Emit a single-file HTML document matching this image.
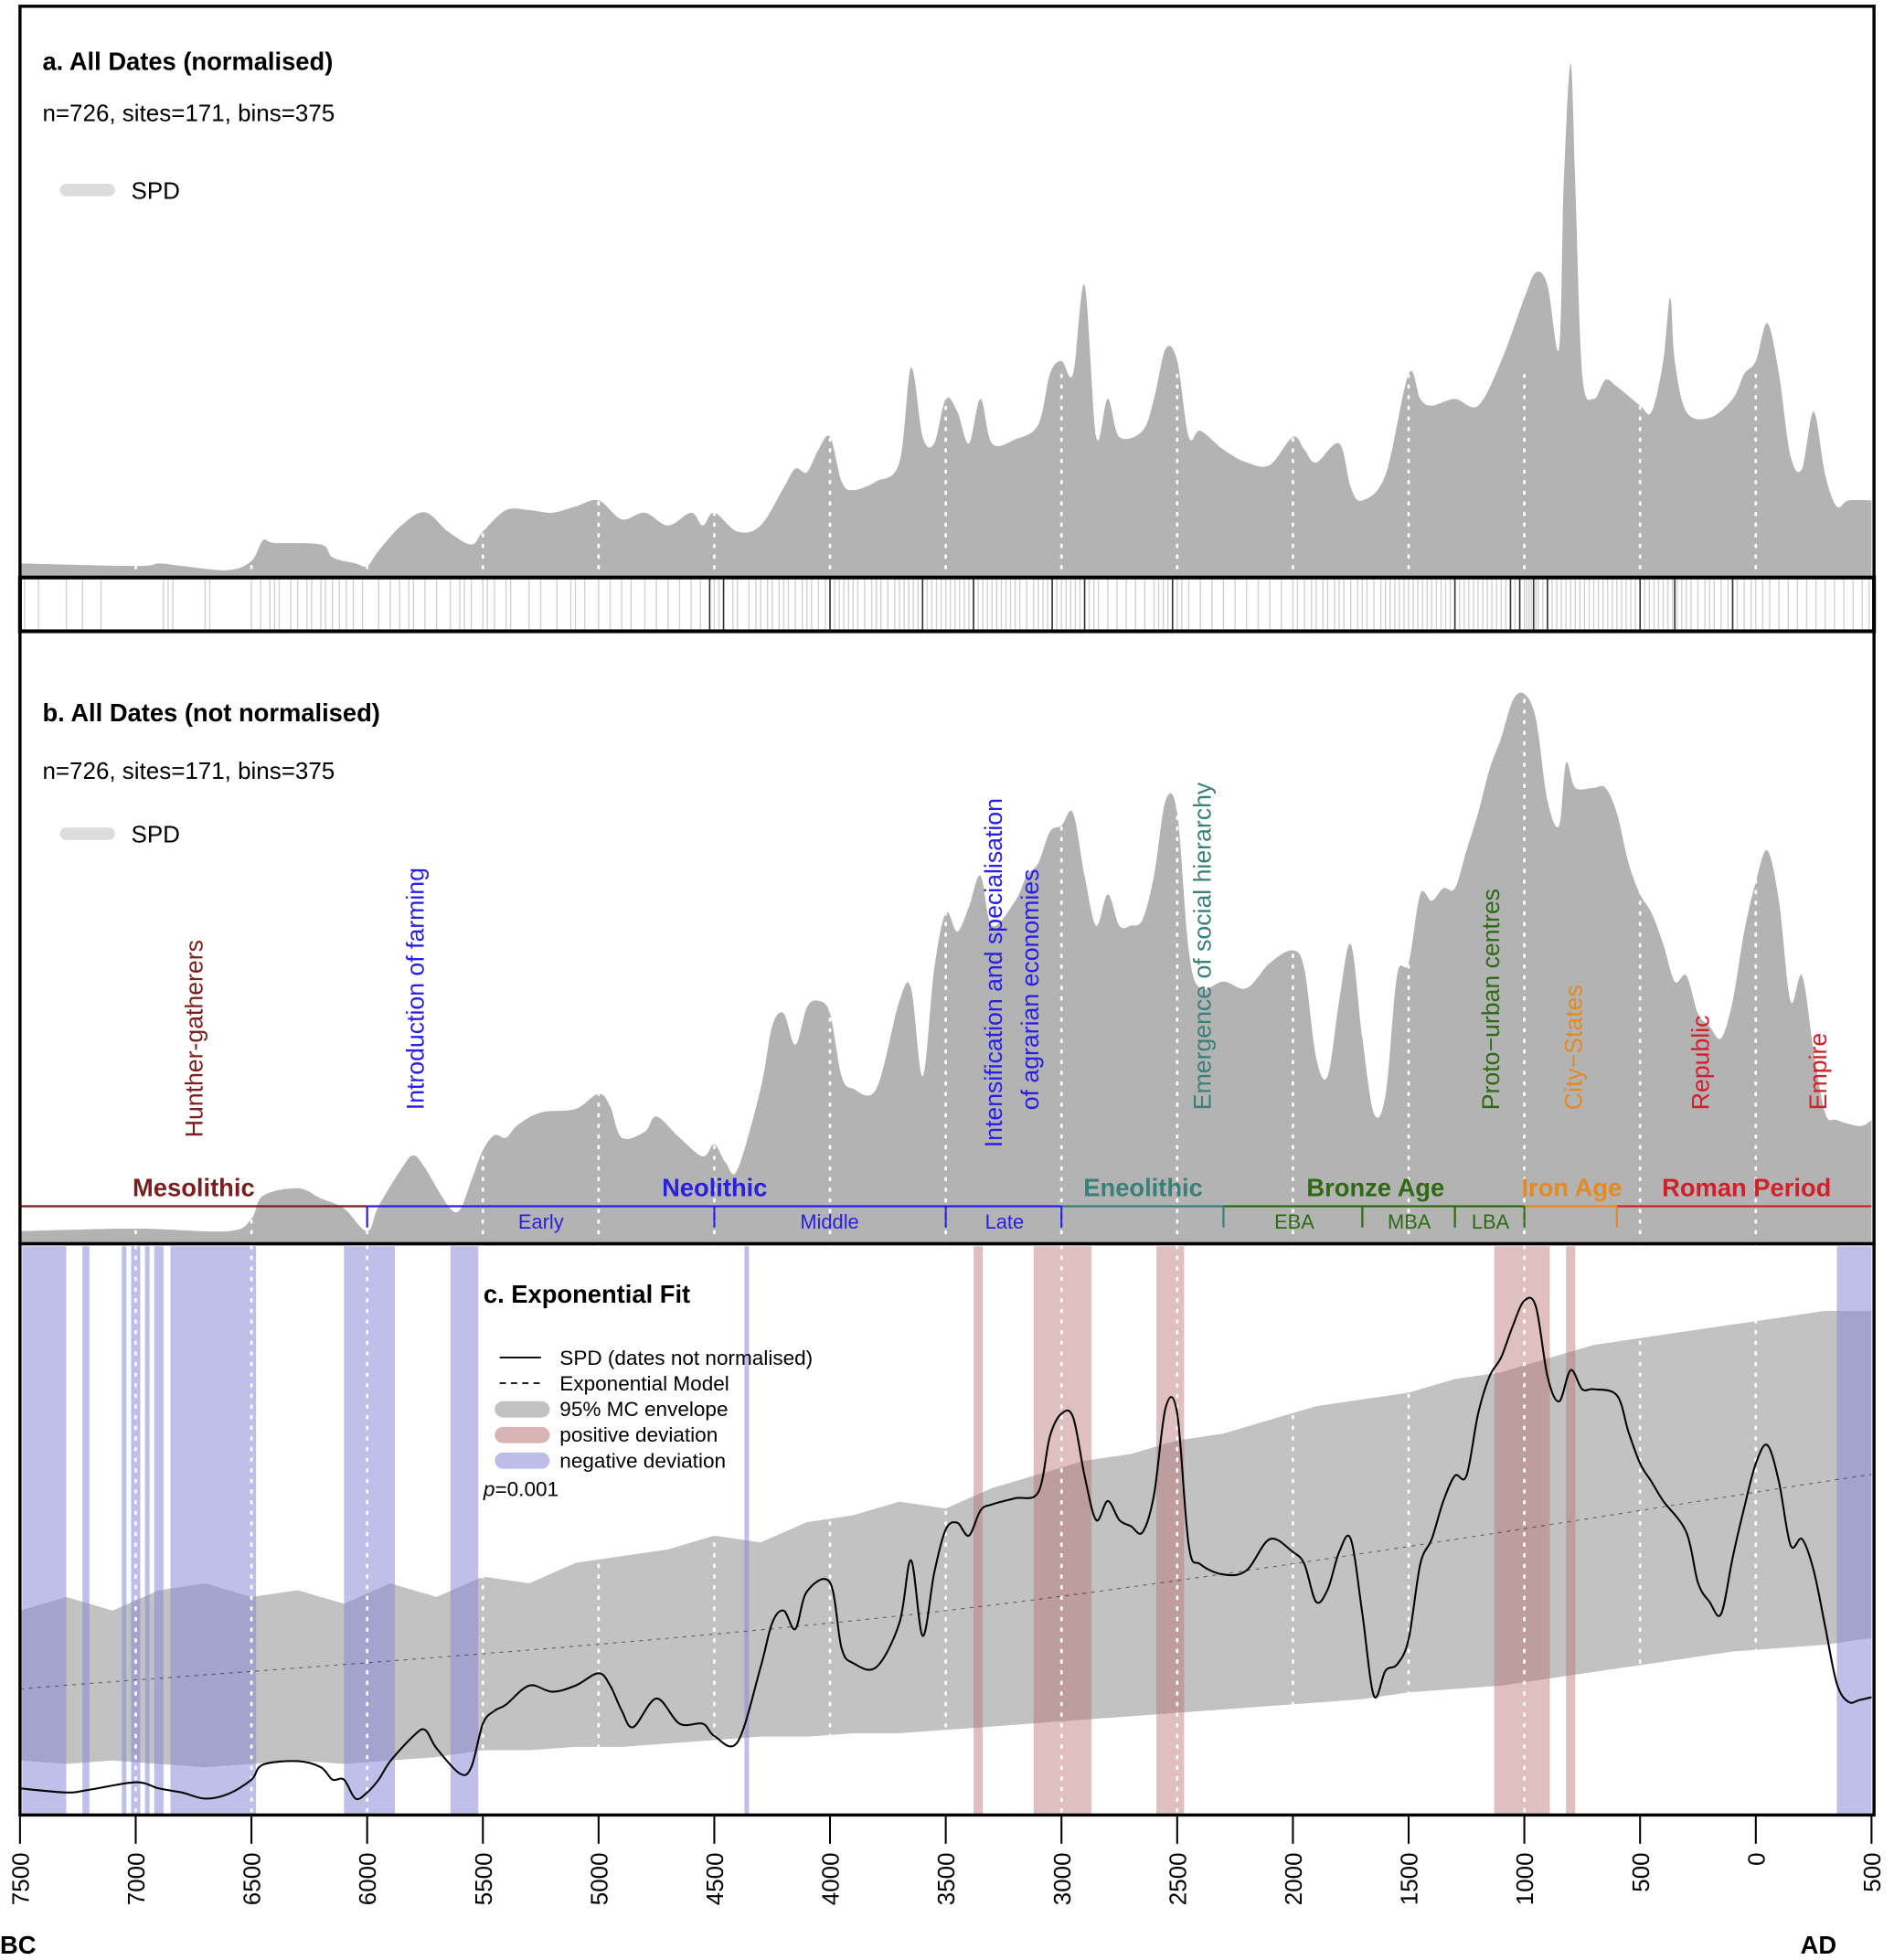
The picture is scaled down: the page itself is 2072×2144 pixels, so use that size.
<!DOCTYPE html>
<html><head><meta charset="utf-8">
<style>
html,body{margin:0;padding:0;background:#fff;}
svg{display:block;}
text{font-family:"Liberation Sans","DejaVu Sans",sans-serif;}
</style></head>
<body>
<svg id="chart" xmlns="http://www.w3.org/2000/svg" width="2072" height="2144" viewBox="0 0 1516 1568" preserveAspectRatio="none">
<g id="gA"></g>
<g id="gRug"></g>
<g id="gB"></g>
<g id="gC"></g>
<g id="gAx"></g>
</svg>
<script>
// ---- data (years BC positive, AD negative) ----
const aYears=[7500,7000,6900,6800,6600,6500,6450,6400,6200,6150,6050,6000,5950,5850,5750,5650,5550,5500,5400,5300,5200,5100,5000,4900,4800,4700,4600,4550,4500,4400,4300,4200,4150,4100,4050,4000,3950,3900,3800,3700,3650,3600,3550,3500,3450,3400,3350,3300,3200,3100,3050,3000,2950,2900,2850,2800,2750,2650,2600,2550,2500,2450,2400,2300,2200,2100,2000,1950,1900,1800,1750,1700,1600,1500,1450,1400,1300,1200,1100,1000,950,900,850,830,800,780,750,700,650,600,500,450,400,370,350,300,200,100,50,0,-50,-100,-150,-200,-250,-300,-350,-400,-500];
const aVals=[2.5,2,2.5,2,1.2,3,7,6.5,6.2,3.7,2.5,2,5,10,12.5,8.7,6.2,8.7,12.9,12.9,12.4,13.6,14.8,11.1,12.4,9.9,12.4,9.9,12.4,8.7,9.9,17.3,21,20.3,24.7,27.2,18.5,16.8,18.5,22.2,40.7,27.2,25.9,34.6,32.1,25.9,34.6,25.9,26.7,29.6,39.5,42,39.5,56.8,27.2,34.6,27.2,28.4,34.6,44.4,42,27.2,28.4,24.7,22.2,21.7,27.2,24.7,22.2,25.9,17.3,14.8,19.8,39.5,34.6,33.3,34.6,33.3,42,54.3,59.3,56.8,44.4,76.5,100,76.5,39.5,34.6,38.3,37,33.3,32.1,42,54.3,42,32.1,30.9,34.6,39.5,42,49.4,39.5,23.5,21,32.1,19.8,13.6,14.8,14.8];
const rugYears=[7480,7420,7300,7230,7150,6880,6860,6840,6700,6680,6500,6460,6420,6400,6380,6330,6300,6260,6240,6200,6180,6150,6120,6090,6060,6020,5950,5900,5860,5820,5800,5750,5700,5640,5600,5580,5550,5500,5480,5450,5400,5380,5300,5250,5180,5120,5100,5060,5000,4950,4900,4860,4800,4750,4700,4650,4600,4560,4520,4500,4480,4460,4420,4400,4350,4320,4300,4270,4250,4220,4200,4180,4150,4120,4100,4080,4050,4020,4000,3980,3960,3940,3920,3900,3880,3850,3820,3800,3780,3750,3720,3700,3680,3660,3640,3620,3600,3580,3560,3540,3520,3500,3480,3460,3440,3420,3400,3380,3360,3340,3320,3300,3280,3260,3240,3220,3200,3180,3150,3120,3100,3080,3060,3040,3020,3000,2980,2960,2940,2920,2900,2880,2860,2840,2800,2760,2720,2680,2640,2600,2580,2560,2540,2520,2500,2480,2450,2400,2350,2300,2250,2200,2150,2100,2050,2000,1980,1950,1920,1900,1870,1850,1820,1800,1780,1750,1720,1700,1680,1650,1620,1600,1580,1560,1540,1520,1500,1480,1460,1440,1420,1400,1380,1360,1340,1320,1300,1280,1260,1240,1220,1200,1180,1160,1140,1120,1100,1080,1060,1040,1020,1000,990,980,970,960,950,940,920,900,880,860,840,820,800,780,760,740,720,700,680,660,640,620,600,580,560,540,520,500,480,460,440,420,400,380,360,340,320,300,280,250,220,200,180,150,120,100,80,50,20,0,-30,-60,-100,-140,-180,-220,-260,-300,-340,-380,-420,-460,-490];
const rugDark=[4520,4460,4000,3600,3380,3040,2900,2520,1300,1060,1020,960,900,500,350,100];

const bYears=[7500,7000,6600,6500,6450,6300,6200,6100,6000,5950,5850,5800,5750,5650,5600,5550,5500,5450,5400,5350,5250,5100,5000,4950,4900,4800,4750,4650,4550,4500,4450,4400,4300,4250,4200,4150,4100,4050,4000,3950,3900,3800,3700,3650,3600,3550,3500,3450,3400,3350,3300,3200,3150,3100,3050,3000,2950,2900,2850,2800,2750,2700,2650,2600,2550,2500,2450,2400,2300,2200,2100,2000,1950,1900,1850,1800,1750,1700,1650,1600,1550,1500,1450,1400,1350,1300,1250,1200,1150,1100,1050,1000,950,900,850,820,780,700,650,600,550,500,450,400,350,300,250,200,150,100,50,0,-50,-100,-150,-200,-250,-300,-350,-450,-500];
const bVals=[2,2.5,2,4.5,9,10.5,8.5,6.5,2,7,14.5,17,14.5,7,6.2,12,18,21,20.5,23,25.5,26.2,29.2,26.7,20.5,21.7,24.7,20.5,16.8,19.2,15.5,14.2,30.2,42.6,45.1,38.9,46.3,47.6,45.1,32.7,30.2,30.2,47.6,50.1,32.7,53.8,65,61.3,66.2,72.4,62.5,67.4,72.4,74.9,81.1,82.3,84.8,72.4,62.5,68.7,62.5,62.5,63.7,72.4,87.3,84.8,57.6,50.1,51.4,50.1,55.1,57.6,53.8,36.4,32.7,47.6,58.8,40.2,25.3,29,52.6,55.1,68.7,67.4,69.9,69.9,77.4,84.8,93.5,99.7,107.1,108.4,103.4,87.3,82.3,94.7,89.8,89.8,89.8,84.8,74.9,68.7,65,58.8,51.4,52.6,45.1,42.6,40.2,47.6,61.3,71.2,77.4,67.4,47.6,52.6,37.7,25.3,24,22.8,24];

const cYears=[7500,7300,7200,7000,6900,6800,6700,6600,6500,6450,6300,6200,6150,6100,6050,6000,5950,5900,5800,5750,5700,5600,5550,5500,5450,5400,5300,5200,5100,5000,4950,4900,4850,4750,4650,4550,4500,4400,4300,4250,4200,4150,4100,4000,3950,3900,3800,3700,3650,3600,3550,3500,3450,3400,3350,3300,3200,3100,3050,3000,2950,2900,2850,2800,2750,2700,2650,2600,2550,2500,2450,2400,2300,2200,2100,2000,1950,1900,1850,1800,1750,1700,1650,1600,1550,1500,1450,1400,1350,1300,1250,1200,1150,1100,1050,1000,950,900,850,800,750,700,600,550,500,450,400,300,250,200,150,100,50,0,-50,-100,-150,-200,-250,-300,-350,-400,-450,-500];
const cVals=[3.9,3.3,3.7,4.8,3.9,3.3,2.4,3.1,5.2,7.4,7.9,7,5.2,5.2,2.4,3.3,5.2,7.9,11.6,12.5,9.8,6.1,7,13.4,15.3,16.2,19,18.1,19,20.8,19,15.3,12.9,17.1,13.4,13.4,11.6,10.7,21.7,28.2,30,27.3,32.8,34.1,24.5,22.3,21.7,28.2,37.4,26.3,35.5,41.9,42.9,41,44.7,45.6,46.5,47.4,55.6,58.9,58.4,49.8,43.3,46.1,43.3,42.4,41.5,47,59.8,58.9,39.6,36.8,35.3,35.9,40.5,38.6,36.8,31.3,33.1,38.6,40.5,29.5,17.5,21.2,22.1,25.8,36.8,40.5,46.1,49.8,49.8,58.9,64.4,67.2,71.8,75.5,74.6,64.4,60.7,65.3,62.5,62.5,61.6,56.2,51.6,48.9,46.1,41.5,34.1,31.3,29.5,37.8,45.1,51.6,54.3,48.9,39.6,40.5,35.9,27.6,19.3,16.6,16.9,17.3];
const envYears=[7500,7300,7100,6900,6700,6500,6300,6100,5900,5700,5500,5300,5100,4900,4700,4500,4300,4100,3900,3700,3500,3300,3100,2900,2700,2500,2300,2100,1900,1700,1500,1300,1100,900,700,500,300,100,-100,-300,-500];
const envHi=[30,32,30,33,34,32,33,31,34,32,35,34,37,38,39,41,40,43,44,46,45,48,50,52,53,55,56,58,60,61,62,64,65,67,69,70,71,72,73,74,74];
const envLo=[8,7.5,8,7.5,7,7.5,8,7.5,8,8.5,9.5,9.5,10,10,10.5,11,11.5,11.5,12,12,12.5,13,13.5,14,14.5,15,15.5,16,16.5,17,18,18.5,19,20,21,22,23,24,24.5,25,26];
const modelYears=[7500,3500,-500];
const modelVals=[18.5,30,50];
const negBands=[[7490,7300],[7230,7200],[7060,7040],[7020,6980],[6960,6940],[6920,6880],[6850,6480],[6100,5880],[5640,5520],[4370,4350],[-350,-500]];
const posBands=[[3380,3340],[3120,2870],[2590,2470],[1130,890],[820,780]];
const tickVals=[7500,7000,6500,6000,5500,5000,4500,4000,3500,3000,2500,2000,1500,1000,500,0,-500];
const tickLabels=["7500","7000","6500","6000","5500","5000","4500","4000","3500","3000","2500","2000","1500","1000","500","0","500"];

// ---- scales ----
const NS="http://www.w3.org/2000/svg";
const X0=16,X1=1498;
function xs(bc){return X0+(7500-bc)/8000*(X1-X0);}
function yA(v){return 461-v*4.1;}
function yB(v){return 993-v*4.04;}
function yCc(v){return 1452-v*5.45;}
function mk(tag,attrs,parent){const e=document.createElementNS(NS,tag);for(const k in attrs)e.setAttribute(k,attrs[k]);parent.appendChild(e);return e;}
function txt(parent,x,y,s,attrs){const t=mk('text',Object.assign({x:x,y:y},attrs||{}),parent);t.textContent=s;return t;}
function pts(years,vals,yf){return years.map((yr,i)=>[xs(yr),yf(vals[i])]);}
function smooth(P,start){let d=start?'M'+P[0][0].toFixed(1)+','+P[0][1].toFixed(1):' L'+P[0][0].toFixed(1)+','+P[0][1].toFixed(1);
 for(let i=0;i<P.length-1;i++){const p0=P[Math.max(0,i-1)],p1=P[i],p2=P[i+1],p3=P[Math.min(P.length-1,i+2)];const k=1/6;
  d+=' C'+(p1[0]+(p2[0]-p0[0])*k).toFixed(1)+','+(p1[1]+(p2[1]-p0[1])*k).toFixed(1)+' '+(p2[0]-(p3[0]-p1[0])*k).toFixed(1)+','+(p2[1]-(p3[1]-p1[1])*k).toFixed(1)+' '+p2[0].toFixed(1)+','+p2[1].toFixed(1);}
 return d;}
function areaPath(years,vals,yf,base){const P=pts(years,vals,yf);return 'M'+P[0][0]+','+base+smooth(P,false)+' L'+P[P.length-1][0]+','+base+' Z';}
function dots(g,y0,y1){for(let yr=7000;yr>=0;yr-=500){const l=mk('line',{x1:xs(yr),x2:xs(yr),y1:y0,y2:y1,stroke:'#fff','stroke-width':2,'stroke-dasharray':'1.5,7','stroke-linecap':'round'},g);}}

// ---- panel a ----
const gA=document.getElementById('gA');
let p=mk('path',{d:areaPath(aYears,aVals,yA,462),fill:'#b3b3b3'},gA);

dots(gA,300,461);
let t=txt(gA,34,56,'a. All Dates (normalised)',{'font-size':20,'font-weight':'bold'});
t=txt(gA,34,97,'n=726, sites=171, bins=375',{'font-size':19});
let r=mk('rect',{x:48,y:147,width:44,height:10,rx:5,fill:'#dcdcdc'},gA);
t=txt(gA,105,159,'SPD',{'font-size':19});
r=mk('rect',{x:16,y:5,width:1484,height:457,fill:'none',stroke:'#000','stroke-width':2.5},gA);

// ---- rug ----
const gR=document.getElementById('gRug');
rugYears.forEach(yr=>{const l=mk('line',{x1:xs(yr),x2:xs(yr),y1:463,y2:504,stroke:'#999','stroke-width':1,'stroke-opacity':0.45},gR);});
rugDark.forEach(yr=>{const l=mk('line',{x1:xs(yr),x2:xs(yr),y1:463,y2:504,stroke:'#333','stroke-width':1.2},gR);});
r=mk('rect',{x:16,y:462,width:1484,height:43,fill:'none',stroke:'#000','stroke-width':3},gR);

// ---- panel b ----
const gB=document.getElementById('gB');
p=mk('path',{d:areaPath(bYears,bVals,yB,994),fill:'#b3b3b3'},gB);
dots(gB,560,993);
t=txt(gB,34,577,'b. All Dates (not normalised)',{'font-size':20,'font-weight':'bold'});
t=txt(gB,34,623,'n=726, sites=171, bins=375',{'font-size':19});
r=mk('rect',{x:48,y:662,width:44,height:10,rx:5,fill:'#dcdcdc'},gB);
t=txt(gB,105,674,'SPD',{'font-size':19});
const rots=[[162,910,'Hunther-gatherers','#7a1e1e'],[339,888,'Introduction of farming','#2a1fe0'],[802,918,'Intensification and specialisation','#2a1fe0'],[831,888,'of agrarian economies','#2a1fe0'],[969,888,'Emergence of social hierarchy','#3a807a'],[1200,888,'Proto\u2212urban centres','#2e6a14'],[1266,888,'City\u2212States','#e58a22'],[1368,888,'Republic','#d0202a'],[1462,888,'Empire','#d0202a']];
rots.forEach(a=>{const e=txt(gB,a[0],a[1],a[2],{'font-size':19.5,fill:a[3],transform:'rotate(-90 '+a[0]+' '+a[1]+')'});});
const segs=[[7500,6000,'#7a1e1e'],[6000,3000,'#2a1fe0'],[3000,2300,'#3a807a'],[2300,1000,'#2e6a14'],[1000,600,'#e58a22'],[600,-500,'#d0202a']];
segs.forEach(s=>{const l=mk('line',{x1:xs(s[0]),x2:xs(s[1]),y1:965,y2:965,stroke:s[2],'stroke-width':1.6},gB);});
const ticksP=[[6000,'#2a1fe0'],[4500,'#2a1fe0'],[3500,'#2a1fe0'],[3000,'#2a1fe0'],[2300,'#3a807a'],[1700,'#2e6a14'],[1300,'#2e6a14'],[1000,'#2e6a14'],[600,'#e58a22']];
ticksP.forEach(s=>{const l=mk('line',{x1:xs(s[0]),x2:xs(s[0]),y1:965,y2:982,stroke:s[1],'stroke-width':1.6},gB);});
const per=[[155,'Mesolithic','#7a1e1e'],[572,'Neolithic','#2a1fe0'],[915,'Eneolithic','#3a807a'],[1101,'Bronze Age','#2e6a14'],[1258,'Iron Age','#e58a22'],[1398,'Roman Period','#d0202a']];
per.forEach(s=>{const e=txt(gB,s[0],957,s[1],{'font-size':20,'font-weight':'bold',fill:s[2],'text-anchor':'middle'});});
const sub=[[433,'Early','#2a1fe0'],[664,'Middle','#2a1fe0'],[804,'Late','#2a1fe0'],[1036,'EBA','#2e6a14'],[1128,'MBA','#2e6a14'],[1193,'LBA','#2e6a14']];
sub.forEach(s=>{const e=txt(gB,s[0],983,s[1],{'font-size':16,fill:s[2],'text-anchor':'middle'});});
r=mk('rect',{x:16,y:505,width:1484,height:490,fill:'none',stroke:'#000','stroke-width':2.5},gB);

// ---- panel c ----
const gC=document.getElementById('gC');
let dEnv='M'+envYears.map((yr,i)=>xs(yr).toFixed(1)+','+yCc(envHi[i]).toFixed(1)).join(' L');
for(let i=envYears.length-1;i>=0;i--)dEnv+=' L'+xs(envYears[i]).toFixed(1)+','+yCc(envLo[i]).toFixed(1);
p=mk('path',{d:dEnv+' Z',fill:'#c2c2c2'},gC);
negBands.forEach(b=>{const e=mk('rect',{x:xs(b[0]),y:997,width:xs(b[1])-xs(b[0]),height:454,fill:'#8a8ad8','fill-opacity':0.55},gC);});
posBands.forEach(b=>{const e=mk('rect',{x:xs(b[0]),y:997,width:xs(b[1])-xs(b[0]),height:454,fill:'#b87070','fill-opacity':0.45},gC);});
dots(gC,997,1451);
p=mk('path',{d:smooth(pts(modelYears,modelVals,yCc),true),fill:'none',stroke:'#000','stroke-width':0.8,'stroke-dasharray':'3,4','stroke-opacity':0.5},gC);
p=mk('path',{d:smooth(pts(cYears,cVals,yCc),true),fill:'none',stroke:'#000','stroke-width':1.5},gC);
t=txt(gC,387,1042,'c. Exponential Fit',{'font-size':20,'font-weight':'bold'});
const lg=[['line','SPD (dates not normalised)'],['dash','Exponential Model'],['#c2c2c2','95% MC envelope'],['#d8b4b4','positive deviation'],['#bdbde8','negative deviation']];
lg.forEach((it,i)=>{const y=1086+i*20.5;
 let s;
 if(it[0]==='line'){s=mk('line',{x1:400,x2:433,y1:y,y2:y,stroke:'#000','stroke-width':1.3},gC);}
 else if(it[0]==='dash'){s=mk('line',{x1:400,x2:433,y1:y,y2:y,stroke:'#000','stroke-width':1.3,'stroke-dasharray':'5,4'},gC);}
 else{s=mk('rect',{x:396,y:y-6,width:44,height:13,rx:6.5,fill:it[0]},gC);}
 
 const e=txt(gC,448,y+6,it[1],{'font-size':16.5});});
t=txt(gC,387,1197,'',{'font-size':16.5});
const ts=mk('tspan',{'font-style':'italic'},t);ts.textContent='p';const ts2=mk('tspan',{},t);ts2.textContent='=0.001';
r=mk('rect',{x:16,y:995,width:1484,height:457,fill:'none',stroke:'#000','stroke-width':2.5},gC);

// ---- x axis ----
const gX=document.getElementById('gAx');
tickVals.forEach((v,i)=>{const x=xs(v);
 const l=mk('line',{x1:x,x2:x,y1:1452,y2:1475,stroke:'#000','stroke-width':1.5},gX);
 const e=txt(gX,x+7,1482,tickLabels[i],{'font-size':19,'text-anchor':'end',transform:'rotate(-90 '+(x+7)+' 1482)'});});
t=txt(gX,0,1563,'BC',{'font-size':20,'font-weight':'bold'});
t=txt(gX,1470,1563,'AD',{'font-size':20,'font-weight':'bold','text-anchor':'end'});
</script>
</body></html>
